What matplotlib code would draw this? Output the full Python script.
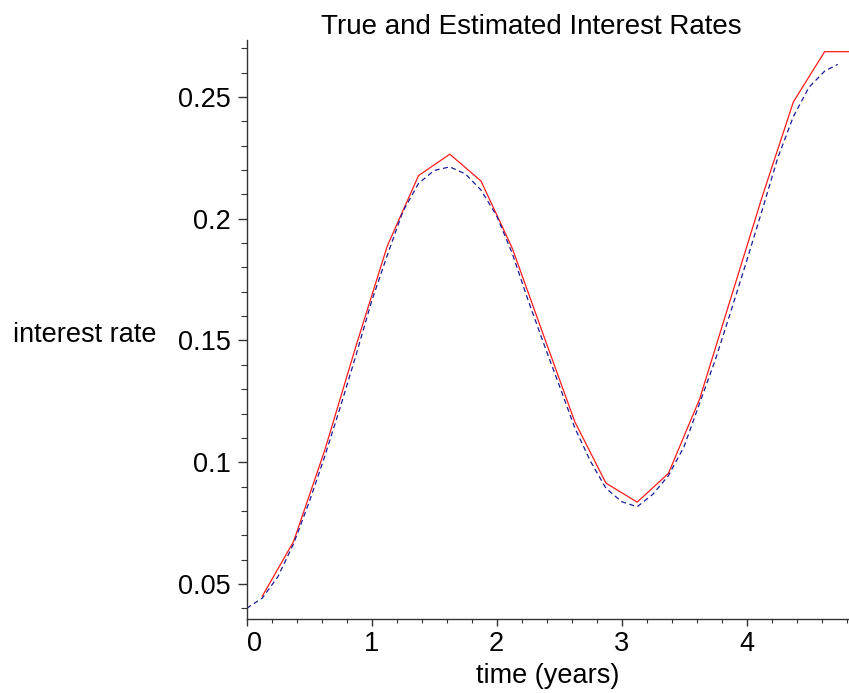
import matplotlib
matplotlib.use("Agg")
import matplotlib.pyplot as plt
from matplotlib.ticker import MultipleLocator, FixedLocator

# True rates (piecewise linear, midpoints of quarter-year steps)
true_t = [0.125, 0.375, 0.625, 0.875, 1.125, 1.375, 1.625, 1.875, 2.125, 2.375,
          2.625, 2.875, 3.125, 3.375, 3.625, 3.875, 4.125, 4.375, 4.625, 4.875]
true_r = [0.0450, 0.0674, 0.1050, 0.1478, 0.1888, 0.2177, 0.2265, 0.2155, 0.1879, 0.1522,
          0.1167, 0.0914, 0.0836, 0.0954, 0.1260, 0.1675, 0.2090, 0.2480, 0.2686, 0.2686]

# Estimated rates (smooth curve)
est_t = [0.000, 0.125, 0.250, 0.375, 0.500, 0.625, 0.750, 0.875, 1.000, 1.125,
         1.250, 1.375, 1.500, 1.625, 1.750, 1.875, 2.000, 2.125, 2.250, 2.375,
         2.500, 2.625, 2.750, 2.875, 3.000, 3.125, 3.250, 3.375, 3.500, 3.625,
         3.750, 3.875, 4.000, 4.125, 4.250, 4.375, 4.500, 4.625, 4.730]
est_r = [0.0400, 0.0442, 0.0530, 0.0665, 0.0836, 0.1025, 0.1228, 0.1440, 0.1662, 0.1850,
         0.2030, 0.2145, 0.2198, 0.2213, 0.2184, 0.2118, 0.2012, 0.1858, 0.1668, 0.1490,
         0.1317, 0.1142, 0.1005, 0.0893, 0.0838, 0.0817, 0.0868, 0.0945, 0.1064, 0.1243,
         0.1420, 0.1620, 0.1825, 0.2035, 0.2250, 0.2420, 0.2540, 0.2606, 0.2634]

x_ticks = [0, 1, 2, 3, 4]
x_ticklabels = ["0", "1", "2", "3", "4"]
y_ticks = [0.05, 0.1, 0.15, 0.2, 0.25]
y_ticklabels = ["0.05", "0.1", "0.15", "0.2", "0.25"]

plt.rcParams['font.family'] = ['Liberation Sans', 'DejaVu Sans']
FS = 19.5

fig = plt.figure(figsize=(8.49, 6.93), dpi=100)
ax = fig.add_axes([246.7 / 849, 1 - 619 / 693, 1 - 246.7 / 849, (619 - 40) / 693])

ax.plot(true_t, true_r, color='#ff1a1a', lw=0.9, solid_joinstyle='miter')
ax.plot(est_t, est_r, color='#1a1a99', lw=0.9, linestyle=(0, (4.0, 2.8)))

ax.set_xlim(0, 4.82)
ax.set_ylim(0.0356, 0.2734)

for s in ['top', 'right']:
    ax.spines[s].set_visible(False)
for s in ['left', 'bottom']:
    ax.spines[s].set_linewidth(1.0)
    ax.spines[s].set_color('#333333')

ax.xaxis.set_major_locator(FixedLocator(x_ticks))
ax.set_xticklabels(x_ticklabels)
ax.xaxis.set_minor_locator(MultipleLocator(0.2))
ax.yaxis.set_major_locator(FixedLocator(y_ticks))
ax.set_yticklabels(y_ticklabels)
ax.yaxis.set_minor_locator(MultipleLocator(0.01))

ax.tick_params(axis='x', which='major', length=4.8, width=1.0, color='#333333',
               labelsize=FS, pad=4)
ax.tick_params(axis='x', which='minor', length=2.9, width=0.8, color='#333333')
ax.tick_params(axis='y', which='major', length=6.5, width=1.0, color='#333333',
               labelsize=FS, pad=5)
ax.tick_params(axis='y', which='minor', length=4.0, width=0.8, color='#333333')

# shift the "0" label so it sits to the right of the axis
lbl0 = ax.get_xticklabels()[0]
lbl0.set_horizontalalignment('left')

fig.text(531 / 849, 1 - 27 / 693, "True and Estimated Interest Rates",
         ha='center', va='center', fontsize=20)
fig.text(547.5 / 849, 1 - 676 / 693, "time (years)", ha='center', va='center', fontsize=FS)
fig.text(12.7 / 849, 1 - 335 / 693, "interest rate", ha='left', va='center', fontsize=FS)

fig.savefig("out.png", dpi=100)
